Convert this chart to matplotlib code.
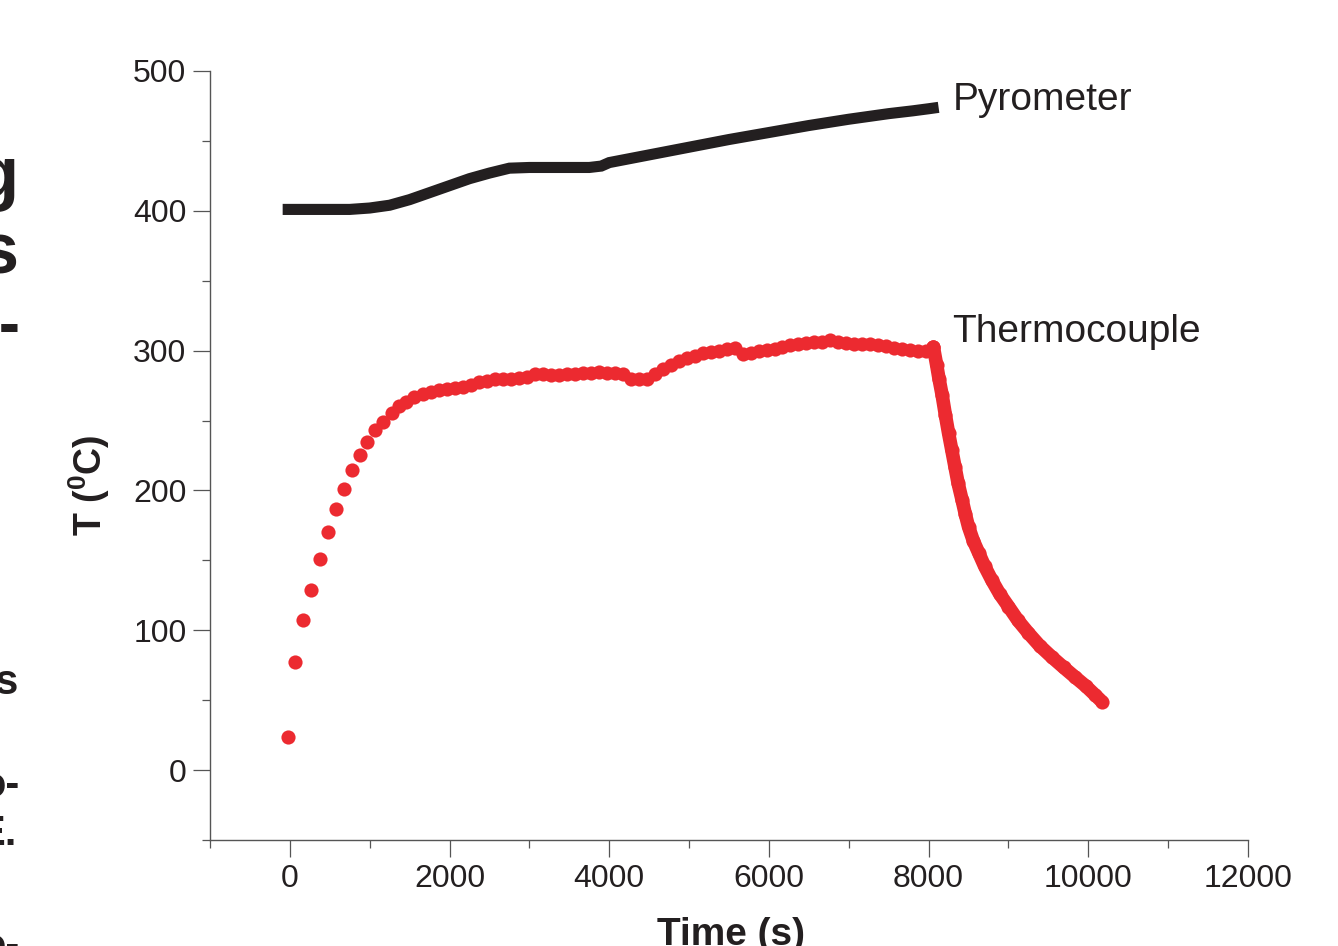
import matplotlib
matplotlib.use('Agg')
import matplotlib.pyplot as plt
from matplotlib.ticker import MultipleLocator, FixedLocator

plt.rcParams['font.family'] = ['Liberation Sans', 'DejaVu Sans']
plt.rcParams['mathtext.fontset'] = 'custom'
plt.rcParams['mathtext.bf'] = 'Liberation Sans:bold'
plt.rcParams['mathtext.rm'] = 'Liberation Sans'

# Pyrometer reading (s, degC)
pyro_t = [-90, 250, 500, 750, 1000, 1250, 1500, 1750, 2000, 2250, 2500, 2750, 3000, 3250,
          3500, 3750, 3900, 4000, 4500, 5000, 5500, 6000, 6500, 7000, 7500, 7800, 8000, 8125]
pyro_T = [401, 401, 401, 401, 402, 404, 408, 413, 418, 423, 427, 430.5, 431, 431,
          431, 431, 432, 434.5, 440, 445.5, 451, 456, 461, 465.5, 469.5, 471.5, 473, 474]

# Thermocouple reading, heating + hold (s, degC)
tc_t = [-20, 70, 170, 270, 375, 475, 575, 675, 775, 875, 970, 1070, 1170, 1275, 1365, 1460,
        1560, 1665, 1770, 1870, 1970, 2070, 2170, 2270, 2370, 2470, 2570, 2670, 2770, 2870,
        2970, 3070, 3170, 3270, 3370, 3470, 3570, 3670, 3770, 3870, 3970, 4070, 4170, 4270,
        4370, 4470, 4570, 4670, 4770, 4870, 4970, 5070, 5170, 5270, 5370, 5470, 5570, 5670,
        5770, 5870, 5970, 6070, 6170, 6270, 6370, 6470, 6570, 6670, 6770, 6870, 6970, 7070,
        7170, 7270, 7370, 7470, 7570, 7670, 7770, 7870, 7970, 8060]
tc_T = [23.4, 77.3, 107, 129, 151, 170, 187, 201, 214.7, 225.7, 234.8, 243.2, 249, 255.4, 260.4, 263.5,
        267, 269, 270.5, 271.5, 272.5, 273.5, 274, 275.5, 277.5, 278.5, 279.5, 279.5, 279.5, 280.5,
        281.5, 283, 283, 282.5, 282.5, 283, 283.5, 284, 284, 284.5, 284, 284, 283, 280,
        279.5, 280, 283, 287, 290, 292.5, 295, 296.5, 298, 299, 300, 301, 302, 297.5,
        298.5, 299.5, 300.5, 301.5, 302.5, 304, 305, 305.5, 306, 306, 307.5, 306, 305.5, 305,
        304.5, 304.5, 304, 303, 302, 301, 300.5, 300, 300, 302.5]

# Thermocouple reading, cooling
cool_t = [8060, 8100, 8130, 8170, 8210, 8250, 8290, 8330, 8370, 8420, 8460, 8500, 8560, 8630,
          8700, 8790, 8890, 9000, 9120, 9250, 9390, 9540, 9690, 9830, 9970, 10080, 10170]
cool_T = [302.5, 290, 280, 268, 254, 241, 229, 217, 205, 193, 183, 174, 164, 155,
          146, 136, 126, 117, 107, 98, 89, 81, 73.5, 66.7, 60, 54, 49]

red = '#ec2a30'
dark = '#231f20'

fig = plt.figure(figsize=(13.38, 9.46), dpi=100)
ax = fig.add_axes([210 / 1338, 1 - 840 / 946, 1038 / 1338, 769 / 946])

ax.plot(pyro_t, pyro_T, color=dark, lw=8.0, solid_capstyle='butt', solid_joinstyle='miter')
ax.plot(tc_t, tc_T, 'o', color=red, ms=10.2, mec=red, mew=0)
ax.plot(cool_t, cool_T, '-o', color=red, lw=9.8, ms=10.2, mec=red, mew=0, solid_capstyle='round')

ax.set_xlim(-1000, 12000)
ax.set_ylim(-50, 500)

ax.xaxis.set_major_locator(FixedLocator(range(0, 12001, 2000)))
ax.xaxis.set_minor_locator(FixedLocator(range(-1000, 12000, 2000)))
ax.yaxis.set_major_locator(MultipleLocator(100))
ax.yaxis.set_minor_locator(FixedLocator(range(-50, 500, 100)))

ax.spines['top'].set_visible(False)
ax.spines['right'].set_visible(False)
for s in ['left', 'bottom']:
    ax.spines[s].set_color('#555555')
    ax.spines[s].set_linewidth(1.0)

ax.tick_params(which='major', direction='out', length=12, width=0.9, color='#555555',
               labelsize=23, labelcolor=dark, pad=5)
ax.tick_params(which='minor', direction='out', length=6, width=0.9, color='#555555')

ax.set_xlabel('Time (s)', fontsize=28, fontweight='bold', color=dark)
ax.xaxis.set_label_coords(0.502, -0.100)
ax.xaxis.label.set_va('top')
ax.set_ylabel(r'T ($\mathbf{^{0}}$C)', fontsize=27, fontweight='bold', color=dark)
ax.yaxis.set_label_coords(-0.094, 0.4616)

ax.text(8300, 472, 'Pyrometer', fontsize=28, color=dark, va='baseline', ha='left')
ax.text(8300, 306, 'Thermocouple', fontsize=28, color=dark, va='baseline', ha='left')

# cut-off text from the page next to the figure
edge = dict(color=dark, fontweight='bold', ha='right', va='baseline')
fig.text(19 / 1338, 1 - 197 / 946, 'g', fontsize=52, **edge)
fig.text(19 / 1338, 1 - 273 / 946, 's', fontsize=52, **edge)
fig.text(21 / 1338, 1 - 345 / 946, 'l-', fontsize=46, **edge)
fig.text(19 / 1338, 1 - 694 / 946, 'es', fontsize=30, **edge)
fig.text(20 / 1338, 1 - 797 / 946, 'o-', fontsize=30, **edge)
fig.text(17 / 1338, 1 - 845 / 946, 'E.', fontsize=30, **edge)
fig.text(20 / 1338, 1 - 958 / 946, 'o-', fontsize=30, **edge)

fig.savefig('out.png', dpi=100)
